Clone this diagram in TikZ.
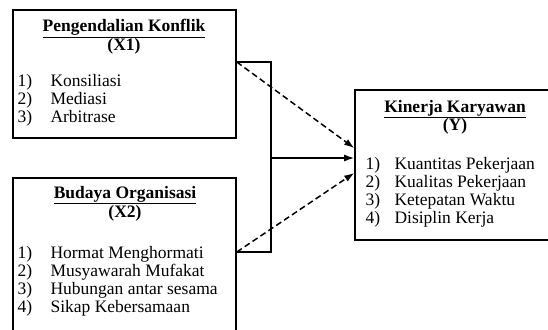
\documentclass[tikz,border=0pt]{standalone}
\usepackage{fontspec}
\setmainfont{Liberation Serif}
\usetikzlibrary{arrows.meta}

\begin{document}
\begin{tikzpicture}[x=1pt,y=-1pt,
  box/.style={draw,line width=1.6pt,inner sep=0pt},
  head/.style={anchor=base,font=\fontsize{17.5}{18}\selectfont\bfseries},
  item/.style={anchor=base west,font=\fontsize{17.5}{18}\selectfont},
  link/.style={line width=1.5pt},
  tip/.style={-{Latex[length=10pt,width=7pt]}},
  dashline/.style={dash pattern=on 6pt off 3.5pt}]
\useasboundingbox (0,0) rectangle (548,329);

% X1 box
\node[box,minimum width=223,minimum height=128] (xone) at (124.5,74) {};
\node[head] (xonet) at (124,32) {\underline{Pengendalian Konflik}};
\node[head] (xonev) at (124,50) {(X1)};
\foreach \n/\t [count=\i] in {1)/Konsiliasi,2)/Mediasi,3)/Arbitrase}{
  \node[item] (xonen\i) at (14,68+18*\i) {\n};
  \node[item] (xonei\i) at (47,68+18*\i) {\t};
}

% X2 box
\node[box,minimum width=223,minimum height=165] (xtwo) at (124.5,260.5) {};
\node[head] (xtwot) at (125,198) {\underline{Budaya Organisasi}};
\node[head] (xtwov) at (125,217) {(X2)};
\foreach \n/\t [count=\i] in {1)/Hormat Menghormati,2)/Musyawarah Mufakat,
    3)/Hubungan antar sesama,4)/Sikap Kebersamaan}{
  \node[item] (xtwon\i) at (14,240+18*\i) {\n};
  \node[item] (xtwoi\i) at (47,240+18*\i) {\t};
}

% Y box
\node[box,minimum width=210,minimum height=150] (y) at (460,165) {};
\node[head] (yt) at (455,112) {\underline{Kinerja Karyawan}};
\node[head] (yv) at (455,130) {(Y)};
\foreach \n/\t [count=\i] in {1)/Kuantitas Pekerjaan,2)/Kualitas Pekerjaan,
    3)/Ketepatan Waktu,4)/Disiplin Kerja}{
  \node[item] (yn\i) at (362,151+18*\i) {\n};
  \node[item] (yi\i) at (391,151+18*\i) {\t};
}

% joint lines
\coordinate (xoneout) at (xone.east |- 0,62);
\coordinate (xtwoout) at (xtwo.east |- 0,252);
\coordinate (joint) at (271,158);
\draw[link] (xoneout) -| (joint) |- (xtwoout);
\draw[link,tip] (joint) -- (y.west |- joint);

% single paths
\draw[link,tip,dashline] (xoneout) -- (y.west |- 0,148);
\draw[link,tip,dashline] (xtwoout) -- (y.west |- 0,173);
\end{tikzpicture}
\end{document}
